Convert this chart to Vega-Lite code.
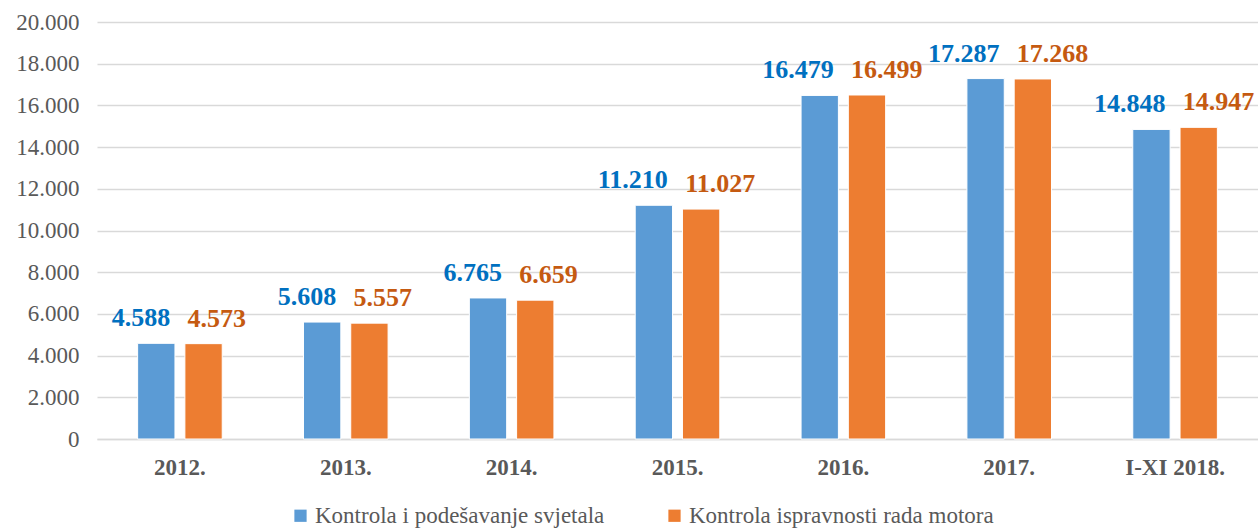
{
  "$schema": "https://vega.github.io/schema/vega-lite/v6.json",
  "width": 1161,
  "height": 417,
  "autosize": {"type": "none"},
  "padding": {"left": 97, "top": 22, "right": 0, "bottom": 91},
  "background": "white",
  "config": {
    "view": {"stroke": null},
    "font": "Liberation Serif",
    "axis": {"labelFont": "Liberation Serif"},
    "legend": {"labelFont": "Liberation Serif"},
    "text": {"font": "Liberation Serif"},
    "locale": {"number": {"decimal": ",", "thousands": ".", "grouping": [3], "currency": ["", ""]}}
  },
  "data": {
    "values": [
      {"godina": "2012.", "serija": "Kontrola i podešavanje svjetala", "vrijednost": 4588},
      {"godina": "2012.", "serija": "Kontrola ispravnosti rada motora", "vrijednost": 4573},
      {"godina": "2013.", "serija": "Kontrola i podešavanje svjetala", "vrijednost": 5608},
      {"godina": "2013.", "serija": "Kontrola ispravnosti rada motora", "vrijednost": 5557},
      {"godina": "2014.", "serija": "Kontrola i podešavanje svjetala", "vrijednost": 6765},
      {"godina": "2014.", "serija": "Kontrola ispravnosti rada motora", "vrijednost": 6659},
      {"godina": "2015.", "serija": "Kontrola i podešavanje svjetala", "vrijednost": 11210},
      {"godina": "2015.", "serija": "Kontrola ispravnosti rada motora", "vrijednost": 11027},
      {"godina": "2016.", "serija": "Kontrola i podešavanje svjetala", "vrijednost": 16479},
      {"godina": "2016.", "serija": "Kontrola ispravnosti rada motora", "vrijednost": 16499},
      {"godina": "2017.", "serija": "Kontrola i podešavanje svjetala", "vrijednost": 17287},
      {"godina": "2017.", "serija": "Kontrola ispravnosti rada motora", "vrijednost": 17268},
      {"godina": "I-XI 2018.", "serija": "Kontrola i podešavanje svjetala", "vrijednost": 14848},
      {"godina": "I-XI 2018.", "serija": "Kontrola ispravnosti rada motora", "vrijednost": 14947}
    ]
  },
  "encoding": {
    "x": {
      "field": "godina", "type": "nominal", "sort": null, "title": null,
      "scale": {"paddingInner": 0.49, "paddingOuter": 0.245},
      "axis": {
        "labelAngle": 0, "labelFont": "Liberation Serif", "labelFontSize": 23, "labelFontWeight": "bold",
        "labelColor": "#595959", "labelPadding": 17, "ticks": false, "domain": true,
        "domainColor": "#d9d9d9", "domainWidth": 1.5, "grid": false
      }
    },
    "xOffset": {"field": "serija", "type": "nominal", "sort": ["Kontrola i podešavanje svjetala", "Kontrola ispravnosti rada motora"], "scale": {"paddingInner": 0.21}},
    "y": {
      "field": "vrijednost", "type": "quantitative", "title": null,
      "scale": {"domain": [0, 20000], "nice": false},
      "axis": {
        "values": [0, 2000, 4000, 6000, 8000, 10000, 12000, 14000, 16000, 18000, 20000],
        "format": ",d", "labelFont": "Liberation Serif", "labelFontSize": 23, "labelColor": "#595959",
        "labelPadding": 18, "ticks": false, "domain": false, "grid": true,
        "gridColor": "#d9d9d9", "gridWidth": 1.5
      }
    },
    "color": {
      "field": "serija", "type": "nominal", "title": null,
      "sort": ["Kontrola i podešavanje svjetala", "Kontrola ispravnosti rada motora"],
      "scale": {"range": ["#5b9bd5", "#ed7d31"]},
      "legend": {
        "orient": "none", "direction": "horizontal", "legendX": 192, "legendY": 482,
        "symbolType": "square", "symbolSize": 150, "symbolStrokeWidth": 0,
        "labelFont": "Liberation Serif", "labelFontSize": 23, "labelColor": "#595959",
        "labelLimit": 0, "columnPadding": 58, "labelOffset": 3
      }
    }
  },
  "layer": [
    {"mark": {"type": "bar", "stroke": "white", "strokeWidth": 1}},
    {
      "transform": [{"filter": "datum.serija === 'Kontrola i podešavanje svjetala'"}],
      "mark": {"type": "text", "baseline": "bottom", "align": "right", "dx": 14, "dy": -12, "fontSize": 26, "fontWeight": "bold", "font": "Liberation Serif", "color": "#0070c0"},
      "encoding": {
        "text": {"field": "vrijednost", "type": "quantitative", "format": ",d"},
        "color": {"value": "#0070c0"}
      }
    },
    {
      "transform": [{"filter": "datum.serija === 'Kontrola ispravnosti rada motora'"}],
      "mark": {"type": "text", "baseline": "bottom", "align": "left", "dx": -16, "dy": -12, "fontSize": 26, "fontWeight": "bold", "font": "Liberation Serif", "color": "#c55a11"},
      "encoding": {
        "text": {"field": "vrijednost", "type": "quantitative", "format": ",d"},
        "color": {"value": "#c55a11"}
      }
    }
  ]
}
